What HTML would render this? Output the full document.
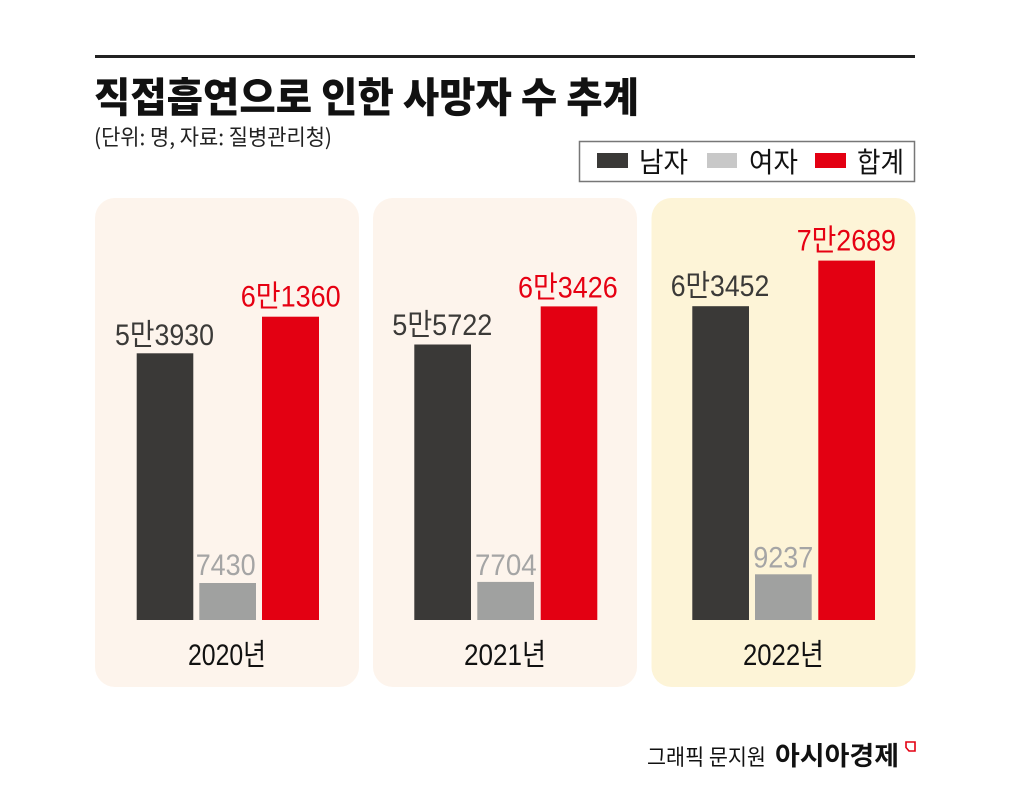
<!DOCTYPE html>
<html><head><meta charset="utf-8"><style>
html,body{margin:0;padding:0;background:#fff;}
svg{display:block;}
</style></head><body>
<svg width="1011" height="809" viewBox="0 0 1011 809" xmlns="http://www.w3.org/2000/svg">
<rect x="0" y="0" width="1011" height="809" fill="#ffffff"/>
<!-- top rule -->
<rect x="95" y="55" width="820" height="3" fill="#222"/>
<!-- title -->
<text x="94" y="112" font-family="'Noto Sans CJK KR','Liberation Sans',sans-serif" font-weight="900" font-size="41" fill="#111" textLength="545" lengthAdjust="spacingAndGlyphs">직접흡연으로 인한 사망자 수 추계</text>
<text x="94" y="145" font-family="'Noto Sans CJK KR','Liberation Sans',sans-serif" font-size="22" fill="#222" textLength="238" lengthAdjust="spacingAndGlyphs">(단위: 명, 자료: 질병관리청)</text>
<!-- legend -->
<rect x="579.5" y="141.5" width="335" height="40" fill="#fff" stroke="#777" stroke-width="1.5"/>
<rect x="597" y="153" width="31" height="15" fill="#3a3937"/>
<text x="639" y="172" font-family="'Noto Sans CJK KR',sans-serif" font-size="28" fill="#111" textLength="49" lengthAdjust="spacingAndGlyphs">남자</text>
<rect x="707" y="153" width="30" height="15" fill="#c8c8c8"/>
<text x="749" y="172" font-family="'Noto Sans CJK KR',sans-serif" font-size="28" fill="#111" textLength="49" lengthAdjust="spacingAndGlyphs">여자</text>
<rect x="815" y="153" width="31" height="15" fill="#e30012"/>
<text x="857" y="172" font-family="'Noto Sans CJK KR',sans-serif" font-size="28" fill="#111" textLength="47" lengthAdjust="spacingAndGlyphs">합계</text>

<!-- panels -->
<rect x="95" y="198" width="264" height="489" rx="20" ry="20" fill="#fdf4ec"/>
<rect x="373" y="198" width="264" height="489" rx="20" ry="20" fill="#fdf4ec"/>
<rect x="651.5" y="198" width="264" height="489" rx="20" ry="20" fill="#fdf4d7"/>

<!-- panel 1 bars -->
<rect x="136.7" y="353.3" width="56.6" height="266.7" fill="#3a3937"/>
<rect x="199.3" y="583" width="56.7" height="37" fill="#a0a1a0"/>
<rect x="262" y="316.7" width="57" height="303.3" fill="#e30012"/>
<!-- panel 2 bars -->
<rect x="414.3" y="344.5" width="56.7" height="275.5" fill="#3a3937"/>
<rect x="477.3" y="581.9" width="56.7" height="38.1" fill="#a0a1a0"/>
<rect x="540.7" y="306.4" width="56.6" height="313.6" fill="#e30012"/>
<!-- panel 3 bars -->
<rect x="692.3" y="306.2" width="56.7" height="313.8" fill="#3a3937"/>
<rect x="755" y="574.3" width="56.7" height="45.7" fill="#a0a1a0"/>
<rect x="818.3" y="260.6" width="56.7" height="359.4" fill="#e30012"/>

<g font-family="'Liberation Sans','Noto Sans CJK KR',sans-serif" font-size="30" lengthAdjust="spacingAndGlyphs">
<!-- panel 1 labels -->
<text x="115" y="345" fill="#3b3a38" textLength="99" lengthAdjust="spacingAndGlyphs">5만3930</text>
<text x="195.7" y="575" fill="#a5a5a5" textLength="60" lengthAdjust="spacingAndGlyphs">7430</text>
<text x="240.7" y="306.7" fill="#e60012" textLength="100" lengthAdjust="spacingAndGlyphs">6만1360</text>
<text x="188" y="665" fill="#111" textLength="78" lengthAdjust="spacingAndGlyphs">2020년</text>
<!-- panel 2 labels -->
<text x="392.3" y="335" fill="#3b3a38" textLength="100" lengthAdjust="spacingAndGlyphs">5만5722</text>
<text x="475" y="575" fill="#a5a5a5" textLength="61.7" lengthAdjust="spacingAndGlyphs">7704</text>
<text x="518" y="297.3" fill="#e60012" textLength="99.7" lengthAdjust="spacingAndGlyphs">6만3426</text>
<text x="464" y="665" fill="#111" textLength="82" lengthAdjust="spacingAndGlyphs">2021년</text>
<!-- panel 3 labels -->
<text x="670.7" y="296" fill="#3b3a38" textLength="98.6" lengthAdjust="spacingAndGlyphs">6만3452</text>
<text x="753.3" y="567.7" fill="#a5a5a5" textLength="60" lengthAdjust="spacingAndGlyphs">9237</text>
<text x="796.7" y="250.7" fill="#e60012" textLength="99.3" lengthAdjust="spacingAndGlyphs">7만2689</text>
<text x="743" y="665" fill="#111" textLength="80.7" lengthAdjust="spacingAndGlyphs">2022년</text>
</g>

<!-- footer -->
<text x="647" y="765" font-family="'Noto Sans CJK KR',sans-serif" font-size="22" fill="#111" textLength="119" lengthAdjust="spacingAndGlyphs">그래픽 문지원</text>
<text x="775" y="765" font-family="'Noto Sans CJK KR',sans-serif" font-weight="bold" font-size="26" fill="#111" textLength="124" lengthAdjust="spacingAndGlyphs">아시아경제</text>
<polygon points="906,742 915,742 915,751 909,751 906,747.5" fill="none" stroke="#e30012" stroke-width="1.6"/>
</svg>
</body></html>
